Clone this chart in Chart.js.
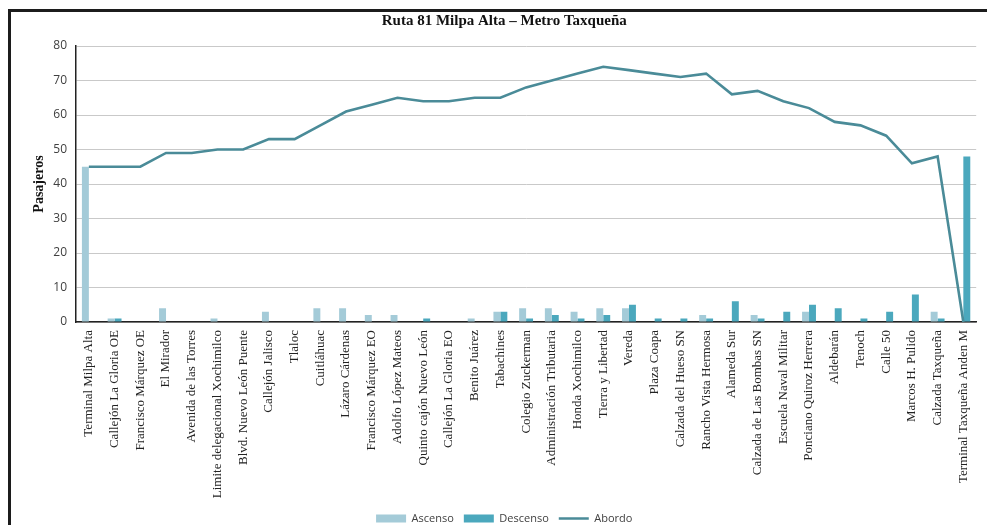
<!DOCTYPE html>
<html>
<head>
<meta charset="utf-8">
<script src="https://cdn.jsdelivr.net/npm/chart.js@4/dist/chart.umd.min.js"></script>
<style>
  html, body { margin: 0; padding: 0; background: #fff; overflow: hidden; }
  #wrap { position: relative; width: 987px; height: 525px; overflow: hidden; }
  #frame { position: absolute; left: 8px; top: 9px; right: -20px; bottom: -20px;
           border-top: 3px solid #1c1c1c; border-left: 3px solid #1c1c1c; pointer-events: none; }
</style>
</head>
<body>
<div id="wrap">
  <canvas id="c" width="987" height="525"></canvas>
  <div id="frame"></div>
</div>
<script>
// Paradas de la ruta (orden de recorrido)
const paradas = [
  'Terminal Milpa Alta', 'Callejón La Gloria OE', 'Francisco Márquez OE', 'El Mirador',
  'Avenida de las Torres', 'Limite delegacional Xochimilco', 'Blvd. Nuevo León Puente',
  'Callejón Jalisco', 'Tlaloc', 'Cuitláhuac', 'Lázaro Cárdenas', 'Francisco Márquez EO',
  'Adolfo López Mateos', 'Quinto cajón Nuevo León', 'Callejón La Gloria EO', 'Benito Juárez',
  'Tabachines', 'Colegio Zuckerman', 'Administración Tributaria', 'Honda Xochimilco',
  'Tierra y Libertad', 'Vereda', 'Plaza Coapa', 'Calzada del Hueso SN', 'Rancho Vista Hermosa',
  'Alameda Sur', 'Calzada de Las Bombas SN', 'Escuela Naval Militar', 'Ponciano Quiroz Herrera',
  'Aldebarán', 'Tenoch', 'Calle 50', 'Marcos H. Pulido', 'Calzada Taxqueña',
  'Terminal Taxqueña Anden M'
];

const ascenso = [
  45, 1, 0, 4, 0, 1, 0, 3, 0, 4, 4, 2, 2, 0, 0, 1, 3, 4, 4, 3,
  4, 4, 0, 0, 2, 0, 2, 0, 3, 0, 0, 0, 0, 3, 0
];

const descenso = [
  0, 1, 0, 0, 0, 0, 0, 0, 0, 0, 0, 0, 0, 1, 0, 0, 3, 1, 2, 1,
  2, 5, 1, 1, 1, 6, 1, 3, 5, 4, 1, 3, 8, 1, 48
];

const abordo = [
  45, 45, 45, 49, 49, 50, 50, 53, 53, 57, 61, 63, 65, 64, 64, 65, 65, 68, 70, 72,
  74, 73, 72, 71, 72, 66, 67, 64, 62, 58, 57, 54, 46, 48, 0
];

const yTicks = [0, 10, 20, 30, 40, 50, 60, 70, 80];

const C_ASC = '#a4cbd8';
const C_DESC = '#4ba8bd';
const C_LINE = '#4a8b98';

new Chart(document.getElementById('c'), {
  type: 'bar',
  data: {
    labels: paradas,
    datasets: [
      { label: 'Ascenso', data: ascenso, backgroundColor: C_ASC, order: 2,
        categoryPercentage: 0.54, barPercentage: 1.0 },
      { label: 'Descenso', data: descenso, backgroundColor: C_DESC, order: 2,
        categoryPercentage: 0.54, barPercentage: 1.0 },
      { type: 'line', label: 'Abordo', data: abordo, borderColor: C_LINE, backgroundColor: C_LINE,
        borderWidth: 2.6, pointRadius: 0, tension: 0, order: 1 }
    ]
  },
  options: {
    responsive: false,
    animation: false,
    layout: { padding: { left: 26, right: 4.5, top: 0, bottom: -9 } },
    plugins: {
      title: {
        display: true,
        text: 'Ruta 81 Milpa Alta – Metro Taxqueña',
        color: '#111',
        font: { family: '"Liberation Serif", "DejaVu Serif", serif', size: 15, weight: 'bold' },
        padding: { top: 12, bottom: 16 }
      },
      legend: {
        position: 'bottom',
        labels: {
          color: '#404040',
          font: { family: '"Open Sans", "Liberation Sans", sans-serif', size: 11 },
          usePointStyle: true,
          pointStyleWidth: 30,
          boxHeight: 8,
          padding: 10,
          sort: (a, b) => a.datasetIndex - b.datasetIndex,
          generateLabels: (chart) => {
            const items = Chart.defaults.plugins.legend.labels.generateLabels(chart);
            items.forEach(it => {
              if (it.text === 'Abordo') {
                it.pointStyle = 'line';
                it.lineWidth = 2.5;
                it.strokeStyle = C_LINE;
              } else {
                it.pointStyle = 'rect';
                it.lineWidth = 0;
              }
            });
            return items;
          }
        }
      },
      tooltip: { enabled: false }
    },
    scales: {
      x: {
        grid: { display: false, drawTicks: false },
        border: { display: true, color: '#222', width: 1.5 },
        ticks: {
          autoSkip: false, maxRotation: 90, minRotation: 90, padding: 8,
          color: '#222',
          font: { family: '"Liberation Serif", "DejaVu Serif", serif', size: 13 }
        },
        afterFit: (s) => { s.height = 181; }
      },
      y: {
        min: 0, max: 80,
        afterBuildTicks: (s) => { s.ticks = yTicks.map(v => ({ value: v })); },
        grid: { color: '#c9c9c9', lineWidth: 1, drawTicks: false },
        border: { display: true, color: '#222', width: 1.5 },
        ticks: {
          padding: 9, color: '#404040',
          font: { family: '"Open Sans", "Liberation Sans", sans-serif', size: 12 }
        },
        title: {
          display: true, text: 'Pasajeros', color: '#111',
          font: { family: '"Liberation Serif", "DejaVu Serif", serif', size: 14, weight: 'bold' },
          padding: { top: 5, bottom: 0 }
        },
        afterFit: (s) => { s.width = 50; }
      }
    }
  }
});
</script>
</body>
</html>
